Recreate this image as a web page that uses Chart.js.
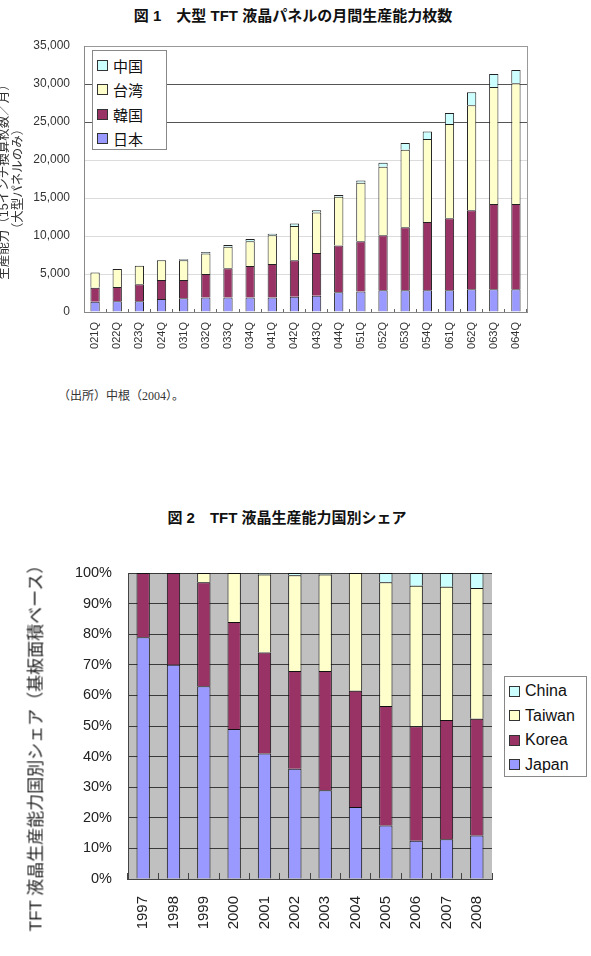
<!DOCTYPE html>
<html lang="ja">
<head>
<meta charset="utf-8">
<title>TFT 液晶生産能力</title>
<script src="https://cdn.jsdelivr.net/npm/chart.js@4/dist/chart.umd.min.js"></script>
<style>
  body { margin: 0; background: #fff; font-family: 'Liberation Sans', 'Noto Sans CJK JP', sans-serif; }
  #pagina { position: relative; width: 591px; height: 956px; overflow: hidden; }
  .titulo { position: absolute; font-weight: bold; font-size: 15px; color: #111; white-space: nowrap; transform: translateX(-50%); }
  .fuente { position: absolute; left: 58px; top: 386px; font-size: 12px; color: #333; font-family: 'Liberation Serif', 'Noto Sans CJK JP', serif; }
  .caja { position: absolute; width: 591px; }
  .leyenda { position: absolute; background: #fff; border: 1px solid #888; padding: 2px 6px 2px 4px; box-sizing: border-box; }
  .leyenda div { display: flex; align-items: center; height: 24.5px; color: #111; white-space: nowrap; }
  .leyenda span.cuadro { width: 9px; height: 9px; border: 1px solid #333; margin-right: 5px; flex: none; }
  .eje-y2 { position: absolute; left: 34px; top: 744px; font-size: 17px; color: #222; white-space: nowrap;
            transform: translate(-50%, -50%) rotate(-90deg); }
</style>
</head>
<body>
<div id="pagina">
  <div class="titulo" style="left:293px; top:4px;">図 1　大型 TFT 液晶パネルの月間生産能力枚数</div>
  <div class="caja" style="top:40px; height:320px;"><canvas id="chart-1"></canvas></div>
  <div class="leyenda" id="leyenda-1" style="left:92px; top:50px; width:75px; height:100px; font-size:15px;"></div>
  <div class="fuente">（出所）中根（2004）。</div>

  <div class="titulo" style="left:287px; top:506px;">図 2　TFT 液晶生産能力国別シェア</div>
  <div class="caja" style="top:540px; height:416px;"><canvas id="chart-2"></canvas></div>
  <div class="eje-y2" id="titulo-y2"></div>
  <div class="leyenda" id="leyenda-2" style="left:504px; top:676px; width:83px; height:101px; font-size:16px;"></div>
</div>
<script>
// Figura 1: capacidad mensual (15 pulgadas equivalentes / mes)
const trimestres = ["021Q","022Q","023Q","024Q","031Q","032Q","033Q","034Q","041Q","042Q",
                    "043Q","044Q","051Q","052Q","053Q","054Q","061Q","062Q","063Q","064Q"];
const japon1  = [1350,1400,1400,1700,1800,1900,1900,1900,1900,2000,2150,2600,2700,2850,2850,2850,2850,3000,3000,3000];
const corea1  = [1850,1900,2250,2500,2400,3100,3850,4150,4400,4800,5600,6150,6600,7250,8300,9000,9500,10400,11200,11200];
const taiwan1 = [2000,2350,2450,2600,2600,2700,2850,3250,3800,4500,5350,6400,7700,9000,10200,10900,12400,13800,15400,15900];
const china1  = [0,0,0,0,150,200,200,300,200,350,280,250,300,550,900,1000,1450,1700,1700,1750];

// Figura 2: participacion por pais (%)
const anios = ["1997","1998","1999","2000","2001","2002","2003","2004","2005","2006","2007","2008"];
const japon2  = [79,70,63,49,41,36,29,23.5,17.5,12.5,13,14.2];
const corea2  = [21,30,34,35,33,32,39,38,39,37.4,39,38.2];
const taiwan2 = [0,0,3,16,25.5,31.3,31.5,38.5,40.5,45.9,43.5,42.7];
const china2  = [0,0,0,0,0.5,0.7,0.5,0,3,4.2,4.5,4.9];

const tituloY1 = ["生産能力（15インチ換算枚数／月）", "（大型パネルのみ）"];
const tituloY2 = "TFT 液晶生産能力国別シェア（基板面積ベース）";

const colores = { japon: "#9999ff", corea: "#993366", taiwan: "#ffffcc", china: "#ccffff" };

Chart.defaults.font.family = "'Liberation Sans', 'Noto Sans CJK JP', sans-serif";
Chart.defaults.animation = false;

// fondo y marco del area de trazado
const marcoPlot = {
    id: "marcoPlot",
    beforeDraw(chart, args, opts) {
        const { ctx, chartArea: a } = chart;
        ctx.save();
        if (opts.fondo) {
            ctx.fillStyle = opts.fondo;
            ctx.fillRect(a.left, a.top, a.width, a.height);
        }
        if (opts.borde) {
            ctx.strokeStyle = opts.borde;
            ctx.lineWidth = 1;
            ctx.strokeRect(Math.round(a.left) + 0.5, Math.round(a.top) + 0.5, Math.round(a.width), Math.round(a.height));
        }
        ctx.restore();
    }
};

function serie(label, data, color, bw) {
    return { label, data, backgroundColor: color, borderColor: "#222", borderWidth: bw,
             categoryPercentage: 1, barPercentage: 1 };
}

function llenarLeyenda(id, datasets) {
    let html = "";
    datasets.slice().reverse().forEach(d => {
        html += `<div><span class="cuadro" style="background:${d.backgroundColor}"></span>${d.label}</div>`;
    });
    document.getElementById(id).innerHTML = html;
}

// ---------- Figura 1 ----------
const ds1 = [
    serie("日本", japon1, colores.japon, 1),
    serie("韓国", corea1, colores.corea, 1),
    serie("台湾", taiwan1, colores.taiwan, 1),
    serie("中国", china1, colores.china, 1)
];
ds1.forEach(d => d.barPercentage = 0.42);

new Chart(document.getElementById("chart-1"), {
    type: "bar",
    data: { labels: trimestres, datasets: ds1 },
    plugins: [marcoPlot],
    options: {
        responsive: true,
        maintainAspectRatio: false,
        layout: { padding: { top: 6, right: 64, left: 0, bottom: 0 } },
        plugins: {
            legend: { display: false },
            tooltip: { enabled: false },
            marcoPlot: { borde: "#999" }
        },
        scales: {
            x: {
                stacked: true,
                grid: { drawOnChartArea: false, tickLength: -3, color: "#666" },
                border: { color: "#888" },
                ticks: { minRotation: 90, maxRotation: 90, padding: 13, color: "#333", font: { size: 11 } },
                afterFit: s => { s.height = 48; }
            },
            y: {
                stacked: true,
                min: 0, max: 35000,
                ticks: { stepSize: 5000, padding: 14, color: "#333", font: { size: 12 } },
                grid: {
                    drawTicks: false,
                    color: c => (c.tick.value === 25000 || c.tick.value === 30000) ? "#555" : (c.tick.value === 35000 ? "#999" : "#dcdcdc")
                },
                border: { color: "#888" },
                title: {
                    display: true,
                    text: tituloY1,
                    color: "#333",
                    font: { size: 12.5, lineHeight: "13.5px" },
                    padding: { top: -2, bottom: 0 }
                },
                afterFit: s => { s.width = 84; s.paddingTop = 0; s.paddingBottom = 0; }
            }
        }
    }
});
llenarLeyenda("leyenda-1", ds1);

// ---------- Figura 2 ----------
const ds2 = [
    serie("Japan", japon2, colores.japon, 1),
    serie("Korea", corea2, colores.corea, 1),
    serie("Taiwan", taiwan2, colores.taiwan, 1),
    serie("China", china2, colores.china, 1)
];
ds2.forEach(d => { d.barPercentage = 0.44; d.borderColor = "#111"; });

new Chart(document.getElementById("chart-2"), {
    type: "bar",
    data: { labels: anios, datasets: ds2 },
    plugins: [marcoPlot],
    options: {
        responsive: true,
        maintainAspectRatio: false,
        layout: { padding: { top: 33, right: 99, left: 0, bottom: 0 } },
        plugins: {
            legend: { display: false },
            tooltip: { enabled: false },
            marcoPlot: { fondo: "#c0c0c0" }
        },
        scales: {
            x: {
                stacked: true,
                grid: { drawOnChartArea: false, tickLength: -6, color: "#444" },
                border: { color: "#444" },
                ticks: { minRotation: 90, maxRotation: 90, padding: 23, color: "#222", font: { size: 15 } },
                afterFit: s => { s.height = 77; }
            },
            y: {
                stacked: true,
                min: 0, max: 100,
                ticks: { stepSize: 10, padding: 16, color: "#222", font: { size: 14.5 }, callback: v => v + "%" },
                grid: { drawTicks: false, color: "#3a3a3a" },
                border: { color: "#444" },
                afterFit: s => { s.width = 128; }
            }
        }
    }
});
document.getElementById("titulo-y2").textContent = tituloY2;
llenarLeyenda("leyenda-2", ds2);
</script>
</body>
</html>
